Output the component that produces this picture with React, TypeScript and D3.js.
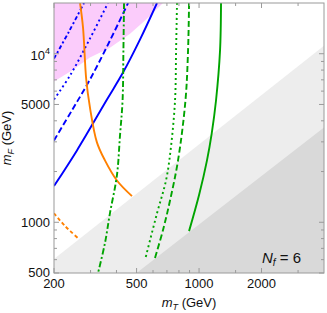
import React from 'react';
import * as d3 from 'd3';

type Pt = [number, number];

// axis ticks
const xMajorTicks = [200, 500, 1000, 2000];
const xTickLabels = ['200', '500', '1000', '2000'];
const xMinorTicks = [300, 400, 600, 700, 800, 900, 1500, 3000];
const yMajorTicks = [500, 1000, 5000, 10000];
const yTickLabels = ['500', '1000', '5000', '10^4'];
const yMinorTicks = [600, 700, 800, 900, 2000, 3000, 4000, 6000, 7000, 8000, 9000];

// shaded regions (m_T, m_F)
const pinkEdge: Pt[] = [[200, 6840], [244, 7950], [298, 9490], [372, 10870], [465, 13160], [561, 16130], [670, 20000]];
const lightGrayEdge: Pt[] = [[200, 605], [4000, 11170]];
const darkGrayEdge: Pt[] = [[500, 500], [4000, 3650]];

// blue curves
const blueSolid: Pt[] = [[200, 1640], [258, 2670], [360, 5350], [430, 7730], [519, 12130], [627, 20000]];
const blueDashed: Pt[] = [[200, 3060], [244, 4610], [298, 7030], [372, 11960], [455, 20000]];
const blueDotted: Pt[] = [[200, 5350], [239, 7430], [298, 12290], [364, 20000]];
const blueDashDot: Pt[] = [[200, 9360], [236, 13520], [279, 20000]];

// orange curves
const orangeSolid: Pt[] = [[267, 20000], [276, 14280], [286, 7030], [298, 4800], [322, 2980], [352, 2330], [402, 1770], [475, 1430]];
const orangeDashed: Pt[] = [[200, 1130], [226, 950], [261, 805]];

// green curves
const greenDashDot: Pt[] = [[435, 20000], [432, 10430], [428, 5280], [416, 3280], [402, 1900], [372, 1130], [352, 752], [326, 500]];
const greenDotted: Pt[] = [[783, 20000], [775, 10430], [766, 5280], [729, 2670], [693, 1770], [627, 1130], [549, 597]];
const greenDashed: Pt[] = [[895, 20000], [885, 10430], [860, 5280], [792, 2330], [725, 1350], [670, 898], [613, 613]];
const greenSolid: Pt[] = [[1276, 20000], [1262, 10430], [1207, 5280], [1151, 3370], [1092, 2330], [1000, 1450], [895, 886]];

const W = 327;
const H = 313;
const left = 54, right = 324, top = 3, bottom = 273;

const BLUE = '#0000ff';
const ORANGE = '#ff8000';
const GREEN = '#00a400';
const FRAME = '#9a9a9a';
const FONT = '"Liberation Sans", Arial, sans-serif';

export default function App() {
  const x = d3.scaleLog().domain([200, 4000]).range([left, right]);
  const y = d3.scaleLog().domain([500, 20000]).range([bottom, top]);

  const line = d3
    .line<Pt>()
    .x((d) => x(d[0]))
    .y((d) => y(d[1]))
    .curve(d3.curveCatmullRom);
  const poly = d3
    .line<Pt>()
    .x((d) => x(d[0]))
    .y((d) => y(d[1]));

  const pinkArea = poly([...pinkEdge, [200, 20000]]) + 'Z';
  const lightArea = poly([...lightGrayEdge, [4000, 500], [200, 500]]) + 'Z';
  const darkArea = poly([...darkGrayEdge, [4000, 500]]) + 'Z';

  const curves: { data: Pt[]; color: string; dash?: string }[] = [
    { data: blueSolid, color: BLUE },
    { data: blueDashed, color: BLUE, dash: '6,3' },
    { data: blueDotted, color: BLUE, dash: '2,3' },
    { data: blueDashDot, color: BLUE, dash: '4,2.5,2,2.5' },
    { data: orangeSolid, color: ORANGE },
    { data: orangeDashed, color: ORANGE, dash: '3.5,2.5' },
    { data: greenDashDot, color: GREEN, dash: '6,2.5,2,2.5' },
    { data: greenDotted, color: GREEN, dash: '2,3' },
    { data: greenDashed, color: GREEN, dash: '6,3' },
    { data: greenSolid, color: GREEN },
  ];

  const tickLines: JSX.Element[] = [];
  const addX = (v: number, len: number, key: string) => {
    const px = x(v);
    tickLines.push(<line key={key + 'b'} x1={px} x2={px} y1={bottom} y2={bottom - len} />);
    tickLines.push(<line key={key + 't'} x1={px} x2={px} y1={top} y2={top + len} />);
  };
  const addY = (v: number, len: number, key: string) => {
    const py = y(v);
    tickLines.push(<line key={key + 'l'} x1={left} x2={left + len} y1={py} y2={py} />);
    tickLines.push(<line key={key + 'r'} x1={right} x2={right - len} y1={py} y2={py} />);
  };
  xMajorTicks.forEach((v) => addX(v, 5, 'xM' + v));
  xMinorTicks.forEach((v) => addX(v, 3, 'xm' + v));
  yMajorTicks.forEach((v) => addY(v, 5, 'yM' + v));
  yMinorTicks.forEach((v) => addY(v, 3, 'ym' + v));

  return (
    <svg
      width={W}
      height={H}
      style={{ position: 'absolute', left: 0, top: 0, background: '#fff' }}
      fontFamily={FONT}
    >
      <defs>
        <clipPath id="plot">
          <rect x={left} y={top} width={right - left} height={bottom - top} />
        </clipPath>
      </defs>
      <g clipPath="url(#plot)">
        <path d={pinkArea} fill="#fbccfb" />
        <path d={lightArea} fill="#ededed" />
        <path d={darkArea} fill="#d9d9d9" />
        {curves.map((c, i) => (
          <path
            key={i}
            d={line(c.data) || ''}
            fill="none"
            stroke={c.color}
            strokeWidth={1.9}
            strokeDasharray={c.dash}
          />
        ))}
      </g>
      <g stroke={FRAME} strokeWidth={1}>
        {tickLines}
        <rect x={left} y={top} width={right - left} height={bottom - top} fill="none" />
      </g>
      <g fontSize={13} fill="#111">
        {xMajorTicks.map((v, i) => (
          <text key={'xl' + v} x={x(v)} y={288} textAnchor="middle">
            {xTickLabels[i]}
          </text>
        ))}
        {yMajorTicks.map((v, i) => {
          const lab = yTickLabels[i];
          if (lab.includes('^')) {
            const [b, e] = lab.split('^');
            return (
              <text key={'yl' + v} x={50} y={y(v) + 6} textAnchor="end">
                {b}
                <tspan fontSize={9} dy={-6}>{e}</tspan>
              </text>
            );
          }
          return (
            <text key={'yl' + v} x={50} y={y(v) + (v === 500 ? 3.5 : 4.6)} textAnchor="end">
              {lab}
            </text>
          );
        })}
        <text x={(left + right) / 2} y={307} textAnchor="middle">
          <tspan fontStyle="italic">m</tspan>
          <tspan fontStyle="italic" fontSize={9} dy={3}>T</tspan>
          <tspan dy={-3}> (GeV)</tspan>
        </text>
        <text transform={`translate(11,${(top + bottom) / 2}) rotate(-90)`} textAnchor="middle">
          <tspan fontStyle="italic">m</tspan>
          <tspan fontStyle="italic" fontSize={9} dy={3}>F</tspan>
          <tspan dy={-3}> (GeV)</tspan>
        </text>
      </g>
      <text x={262} y={263} fontSize={15} fill="#111">
        <tspan fontStyle="italic">N</tspan>
        <tspan fontStyle="italic" fontSize={10} dy={3}>f</tspan>
        <tspan dy={-3}> = 6</tspan>
      </text>
    </svg>
  );
}
